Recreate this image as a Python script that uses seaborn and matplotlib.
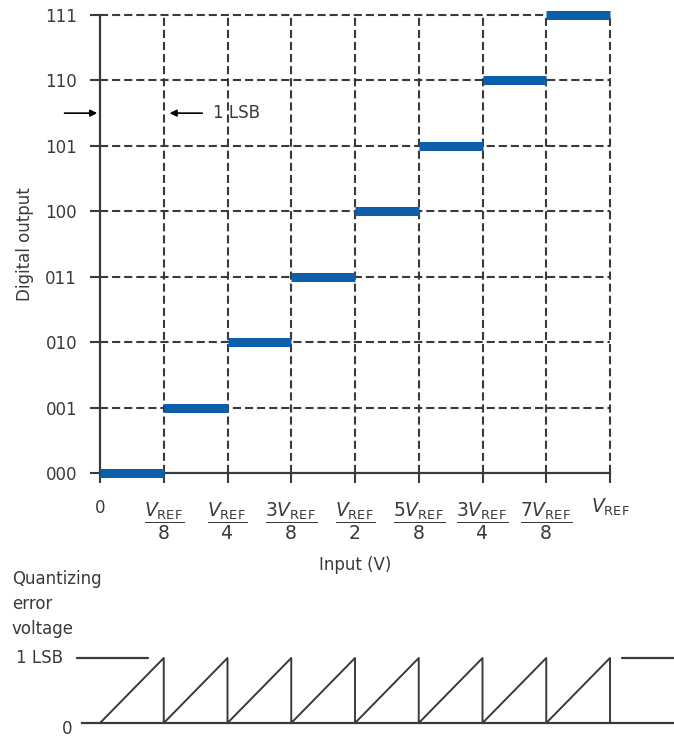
import pandas as pd
import matplotlib.pyplot as plt
import matplotlib.transforms as mtransforms
import seaborn as sns

# Data
codes = ['000', '001', '010', '011', '100', '101', '110', '111']
code_values = [0, 1, 2, 3, 4, 5, 6, 7]
step_edges = [0.0, 0.125, 0.25, 0.375, 0.5, 0.625, 0.75, 0.875, 1.0]
x_fraction_labels = [r'$\dfrac{V_{\mathrm{REF}}}{8}$', r'$\dfrac{V_{\mathrm{REF}}}{4}$',
                     r'$\dfrac{3V_{\mathrm{REF}}}{8}$', r'$\dfrac{V_{\mathrm{REF}}}{2}$',
                     r'$\dfrac{5V_{\mathrm{REF}}}{8}$', r'$\dfrac{3V_{\mathrm{REF}}}{4}$',
                     r'$\dfrac{7V_{\mathrm{REF}}}{8}$']
x_end_labels = ['0', r'$V_{\mathrm{REF}}$']

# quantizing error sawtooth (in LSB)
saw_x = [0.0, 0.125, 0.125, 0.25, 0.25, 0.375, 0.375, 0.5, 0.5, 0.625, 0.625,
         0.75, 0.75, 0.875, 0.875, 1.0, 1.0]
saw_y = [0, 1, 0, 1, 0, 1, 0, 1, 0, 1, 0, 1, 0, 1, 0, 1, 0]
lsb_left_x = [-0.045, 0.094]
lsb_right_x = [1.024, 1.13]

sns.set_theme(style='white')
plt.rcParams['font.family'] = ['DejaVu Sans']
plt.rcParams['mathtext.fontset'] = 'dejavusans'

ink = '#3a3a3a'
blue = '#0d5fab'
fs = 12

fig = plt.figure(figsize=(6.74, 7.38), dpi=100)

# Top: transfer characteristic
ax = fig.add_axes([100 / 674, 1 - 473 / 738, 510 / 674, 458 / 738])
ax.set_xlim(0, 1)
ax.set_ylim(0, 7)

dash = (0, (3.9, 1.9))
ax.hlines(code_values[1:], 0, 1, colors=ink, linestyles=dash, lw=1.5, clip_on=False, zorder=1)
ax.vlines(step_edges[1:], 0, 7, colors=ink, linestyles=dash, lw=1.5, clip_on=False, zorder=1)

steps = pd.DataFrame({
    'x': [e for k in range(len(codes)) for e in (step_edges[k], step_edges[k + 1])],
    'y': [v for v in code_values for _ in range(2)],
    'code': [c for c in codes for _ in range(2)],
})
sns.lineplot(data=steps, x='x', y='y', units='code', estimator=None, color=blue,
             lw=6.5, solid_capstyle='butt', ax=ax, zorder=3, clip_on=False)

for side in ['top', 'right']:
    ax.spines[side].set_visible(False)
for side in ['left', 'bottom']:
    ax.spines[side].set_color(ink)
    ax.spines[side].set_linewidth(1.6)

ax.set_yticks(code_values, codes)
ax.set_xticks(step_edges, [''] * len(step_edges))
ax.tick_params(axis='y', length=7.5, width=1.5, color=ink, pad=9,
               labelsize=fs, labelcolor=ink, left=True)
ax.tick_params(axis='x', length=7, width=1.5, color=ink, bottom=True)
ax.set_xlabel('')
ax.set_ylabel('Digital output', fontsize=fs, color=ink)
ax.yaxis.set_label_coords(-66 / 510, 0.5)

trans = mtransforms.blended_transform_factory(ax.transData, ax.transAxes)
for x, lab in zip(step_edges[1:-1], x_fraction_labels):
    ax.text(x, -48 / 458, lab, transform=trans, ha='center', va='center',
            fontsize=13.5, color=ink)
ax.text(step_edges[0], -35 / 458, x_end_labels[0], transform=trans, ha='center',
        va='center', fontsize=fs, color=ink)
ax.text(step_edges[-1], -34 / 458, x_end_labels[1], transform=trans, ha='center',
        va='center', fontsize=13.5, color=ink)
ax.text(0.5, -92 / 458, 'Input (V)', transform=ax.transAxes, ha='center',
        va='center', fontsize=fs, color=ink)

# 1 LSB marker
ax.annotate('', xy=(0, 5.5), xytext=(-0.075, 5.5),
            arrowprops=dict(arrowstyle='-|>', color='black', lw=1.2, mutation_scale=10),
            annotation_clip=False)
ax.annotate('', xy=(0.131, 5.5), xytext=(0.206, 5.5),
            arrowprops=dict(arrowstyle='-|>', color='black', lw=1.2, mutation_scale=10),
            annotation_clip=False)
ax.text(0.222, 5.5, '1 LSB', ha='left', va='center', fontsize=fs, color=ink)

# Bottom: quantizing error
ax2 = fig.add_axes([82 / 674, 1 - 723 / 738, 592 / 674, 65 / 738])
ax2.set_xlim(-18 / 510, 574 / 510)
ax2.set_ylim(0, 1)
saw = pd.DataFrame({'x': saw_x, 'y': saw_y})
sns.lineplot(data=saw, x='x', y='y', sort=False, estimator=None, color=ink,
             lw=1.4, ax=ax2, clip_on=False)
ax2.plot(lsb_left_x, [1, 1], color=ink, lw=1.6, clip_on=False)
ax2.plot(lsb_right_x, [1, 1], color=ink, lw=1.6, clip_on=False)
for side in ['top', 'right', 'left']:
    ax2.spines[side].set_visible(False)
ax2.spines['bottom'].set_color(ink)
ax2.spines['bottom'].set_linewidth(1.6)
ax2.set_xticks([])
ax2.set_yticks([])
ax2.set_xlabel('')
ax2.set_ylabel('')

fig.text(12 / 674, 1 - 570 / 738, 'Quantizing\nerror\nvoltage', ha='left', va='top',
         fontsize=fs, color=ink, linespacing=1.5)
fig.text(63 / 674, 1 - 658 / 738, '1 LSB', ha='right', va='center', fontsize=fs, color=ink)
fig.text(67 / 674, 1 - 729 / 738, '0', ha='center', va='center', fontsize=fs, color=ink)

fig.savefig('out.png', dpi=100)
